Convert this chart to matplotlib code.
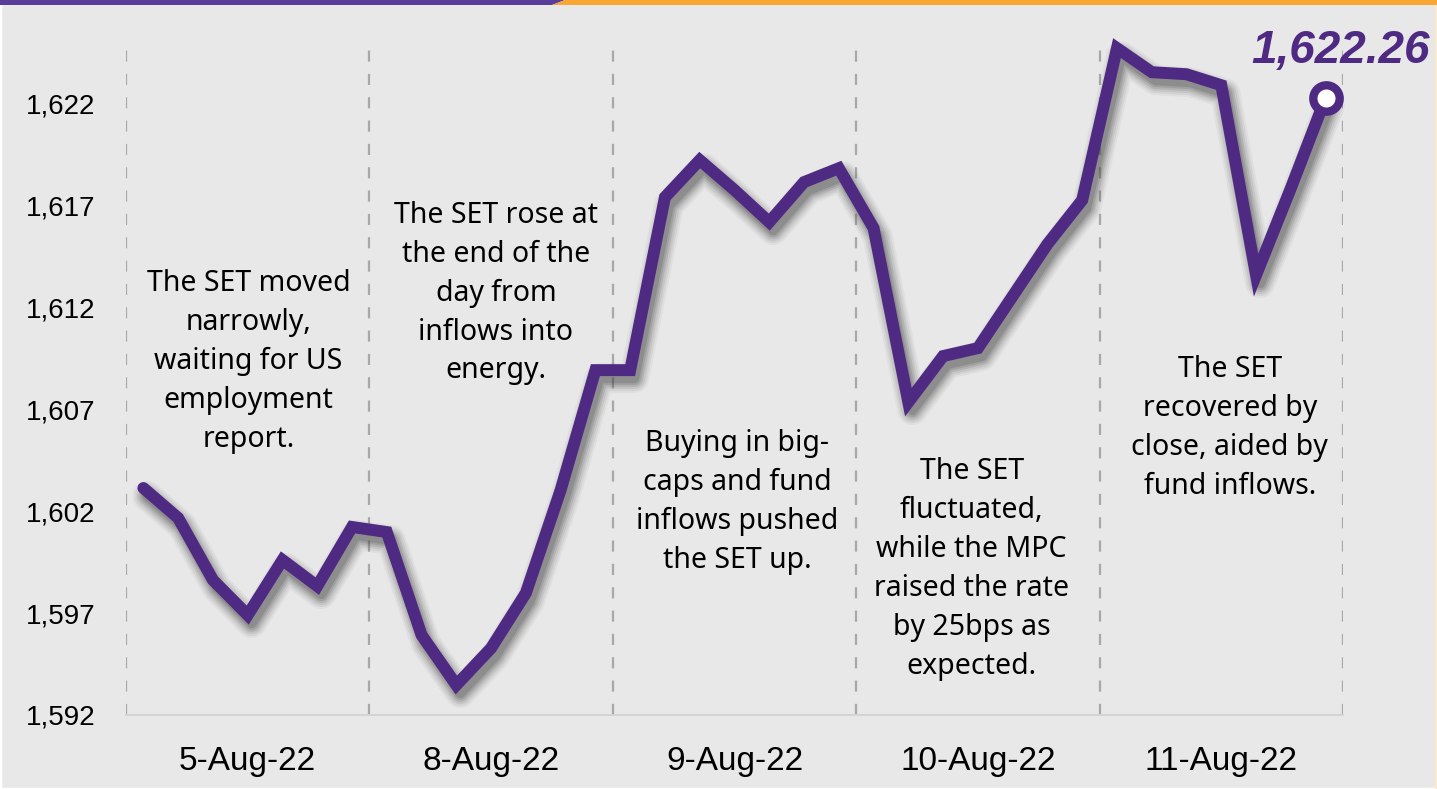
import matplotlib
matplotlib.use("Agg")
import matplotlib.pyplot as plt
import matplotlib.transforms as mtransforms
from matplotlib.patches import Rectangle, Polygon
import numpy as np

# ---- data ----
days = ["5-Aug-22", "8-Aug-22", "9-Aug-22", "10-Aug-22", "11-Aug-22"]
points_per_day = 7
set_index = [
    1603.13, 1601.66, 1598.62, 1596.90, 1599.60, 1598.32, 1601.22,
    1600.97, 1595.92, 1593.47, 1595.28, 1597.98, 1603.03, 1608.91,
    1608.91, 1617.39, 1619.21, 1617.74, 1616.17, 1618.13, 1618.81,
    1615.87, 1607.34, 1609.60, 1609.99, 1612.54, 1615.09, 1617.25,
    1624.70, 1623.52, 1623.42, 1622.88, 1613.57, 1617.83, 1622.26,
]
y_ticks = [1592, 1597, 1602, 1607, 1612, 1617, 1622]
y_tick_labels = ["1,592", "1,597", "1,602", "1,607", "1,612", "1,617", "1,622"]
last_label = "1,622.26"
notes = [
    "The SET moved\nnarrowly,\nwaiting for US\nemployment\nreport.",
    "The SET rose at\nthe end of the\nday from\ninflows into\nenergy.",
    "Buying in big-\ncaps and fund\ninflows pushed\nthe SET up.",
    "The SET\nfluctuated,\nwhile the MPC\nraised the rate\nby 25bps as\nexpected.",
    "The SET\nrecovered by\nclose, aided by\nfund inflows.",
]

# ---- style ----
BG = "#e8e8e8"
PURPLE = "#4f2a83"
TOPPURPLE = "#5a3c9b"
ORANGE = "#f9a633"
note_pos = [(3.02, 1609.35), (10.14, 1612.69), (17.07, 1602.44),
            (23.82, 1599.16), (31.24, 1606.07)]

W, H = 1437, 789
fig = plt.figure(figsize=(W / 100, H / 100), dpi=100, facecolor=BG)

# frame decorations
fig.patches.append(Rectangle((0, 0), 1, 1, transform=fig.transFigure,
                             facecolor=BG, edgecolor="white", lw=2.5, zorder=-10))
fig.patches.append(Polygon([(0, 1), (565 / W, 1), (552 / W, 1 - 5 / H), (0, 1 - 5 / H)],
                           closed=True, transform=fig.transFigure,
                           facecolor=TOPPURPLE, edgecolor="none", zorder=5))
fig.patches.append(Polygon([(565 / W, 1), (1, 1), (1, 1 - 5 / H), (552 / W, 1 - 5 / H)],
                           closed=True, transform=fig.transFigure,
                           facecolor=ORANGE, edgecolor="none", zorder=5))
fig.patches.append(Rectangle((1 - 2 / W, 0), 2 / W, 1, transform=fig.transFigure,
                             facecolor="#fde9cc", edgecolor="none", zorder=4))

ax = fig.add_axes([126 / W, 74 / H, (1343 - 126) / W, (715 - 42) / H])
ax.set_facecolor("none")

n = len(set_index)
x = np.arange(n)
ax.set_xlim(-0.5, n - 0.5)
ax.set_ylim(1592, 1625)

# day separators
for k in range(len(days) + 1):
    ax.axvline(k * points_per_day - 0.5, color="#a8a8a8", lw=1.6,
               dashes=(5, 5.5), zorder=1)

# shadow (soft, offset down-right)
off = mtransforms.offset_copy(ax.transData, fig=fig, x=4, y=-8, units="dots")
for w, a in [(30, 0.05), (26, 0.07), (22, 0.09), (18, 0.12), (14, 0.15), (10, 0.18)]:
    ax.plot(x, set_index, color="#383838", lw=w * 0.72, alpha=a,
            solid_joinstyle="round", solid_capstyle="round",
            transform=off, zorder=2, clip_on=False)

ax.plot(x, set_index, color=PURPLE, lw=8.6, solid_joinstyle="miter",
        solid_capstyle="round", zorder=3, clip_on=False)
ax.plot(x[-1], set_index[-1], "o", ms=19, mfc="white", mec=PURPLE, mew=6,
        zorder=4, clip_on=False)
ax.annotate(last_label, (x[-1], set_index[-1]), xytext=(11, 18),
            textcoords="offset points", ha="center", va="bottom",
            fontsize=33, fontweight="bold", fontstyle="italic",
            family=["Liberation Sans", "DejaVu Sans"], color=PURPLE, zorder=5)

# notes
for txt, (nx, ny) in zip(notes, note_pos):
    ax.text(nx, ny, txt, ha="center", va="center", fontsize=20.5,
            family=["Noto Sans", "DejaVu Sans"], color="black",
            linespacing=1.45, zorder=4)

# axes styling
for s in ["top", "right", "left"]:
    ax.spines[s].set_visible(False)
ax.spines["bottom"].set_color("#d4d4d4")
ax.spines["bottom"].set_linewidth(1.5)
ax.set_yticks(y_ticks)
ax.set_yticklabels(y_tick_labels, fontsize=20,
                   family=["Liberation Sans", "DejaVu Sans"])
ax.tick_params(axis="y", length=0, pad=22)
centers = [k * points_per_day + (points_per_day - 1) / 2 for k in range(len(days))]
ax.set_xticks(centers)
ax.set_xticklabels(days, fontsize=24,
                   family=["Liberation Sans", "DejaVu Sans"])
ax.tick_params(axis="x", length=0, pad=22)

fig.savefig("out.png", dpi=100, facecolor=BG)
